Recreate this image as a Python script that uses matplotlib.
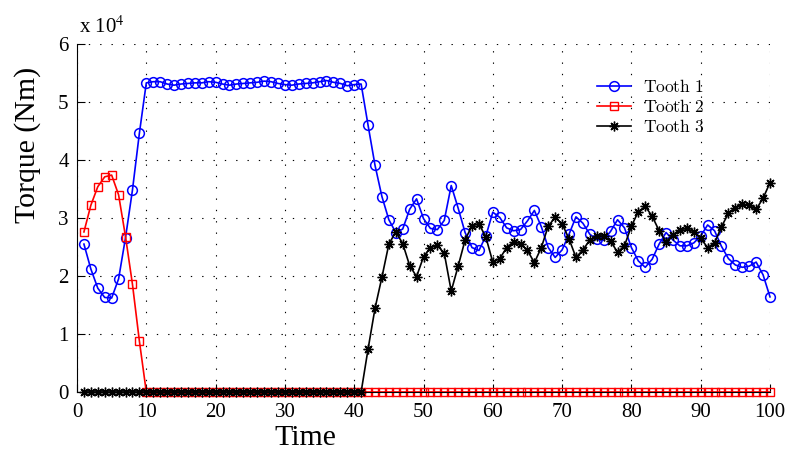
import matplotlib
matplotlib.use("Agg")
import matplotlib.pyplot as plt
from matplotlib.font_manager import FontProperties
import numpy as np

# torque per tooth, in units of 1e4 Nm, sampled at time steps 1..100
time = np.arange(1, 101)

tooth1 = [2.55, 2.12, 1.79, 1.63, 1.62, 1.95, 2.66, 3.48, 4.46,
          5.33, 5.35, 5.35, 5.31, 5.29, 5.31, 5.32, 5.33,
          5.33, 5.35, 5.34, 5.31, 5.29, 5.31, 5.32, 5.33, 5.34, 5.36, 5.35, 5.32,
          5.30, 5.29, 5.31, 5.32, 5.33, 5.35, 5.37, 5.34, 5.32, 5.28, 5.30, 5.31,
          4.60, 3.91, 3.37, 2.97, 2.75, 2.81, 3.15, 3.33, 2.99, 2.82,
          2.80, 2.96, 3.56, 3.17, 2.75, 2.49, 2.44, 2.69, 3.10, 3.01,
          2.83, 2.78, 2.80, 2.95, 3.13, 2.85, 2.49, 2.32, 2.45, 2.72,
          3.02, 2.91, 2.72, 2.63, 2.62, 2.77, 2.97, 2.83, 2.49, 2.26,
          2.15, 2.29, 2.55, 2.75, 2.62, 2.52, 2.52, 2.57, 2.69, 2.88,
          2.78, 2.51, 2.30, 2.19, 2.15, 2.17, 2.24, 2.02, 1.64]

tooth2 = [2.76, 3.22, 3.54, 3.71, 3.74, 3.40, 2.68, 1.86, 0.88] + [0.0] * 91

tooth3 = [0.0] * 41 + [
    0.74, 1.44, 1.98, 2.55, 2.76, 2.56, 2.18, 1.99, 2.33, 2.49,
    2.53, 2.39, 1.74, 2.17, 2.62, 2.87, 2.90, 2.67, 2.24, 2.30,
    2.49, 2.59, 2.56, 2.44, 2.23, 2.49, 2.86, 3.01, 2.90, 2.64,
    2.32, 2.45, 2.62, 2.69, 2.69, 2.60, 2.41, 2.52, 2.86, 3.11,
    3.20, 3.03, 2.78, 2.59, 2.71, 2.80, 2.82, 2.76, 2.65, 2.49,
    2.57, 2.85, 3.08, 3.18, 3.24, 3.22, 3.15, 3.34, 3.61]

labels = [r"$\mathrm{Tooth\ 1}$", r"$\mathrm{Tooth\ 2}$", r"$\mathrm{Tooth\ 3}$"]

plt.rcParams["font.family"] = "Liberation Serif"
plt.rcParams["mathtext.fontset"] = "stix"

W, H = 788, 450
fig = plt.figure(figsize=(W / 100, H / 100), dpi=100)
ax = fig.add_axes([77 / W, 1 - 392 / H, (770 - 77) / W, (392 - 44) / H])

asterisk = (8, 2, 0)
ax.plot(time, tooth1, color="b", lw=1.2, marker="o", ms=7, mfc="none",
        mew=1.1, label=labels[0], clip_on=False)
ax.plot(time, tooth2, color="r", lw=1.2, marker="s", ms=6, mfc="none",
        mew=1.0, label=labels[1], clip_on=False)
ax.plot(time, tooth3, color="k", lw=1.2, marker=asterisk, ms=7,
        mew=1.0, label=labels[2], clip_on=False)

ax.set_xlim(0, 100)
ax.set_ylim(0, 6)
ax.set_xticks(range(0, 101, 10))
ax.set_yticks(range(0, 7))

for s in ["top", "right"]:
    ax.spines[s].set_visible(False)
ax.spines["left"].set_linewidth(0.8)
ax.spines["bottom"].set_linewidth(0.8)

ax.tick_params(direction="in", length=6, width=0.8, labelsize=15, pad=6)
ax.tick_params(axis="x", pad=8)

ax.grid(True, color="k", linewidth=0.8, linestyle=(0, (1.2, 9)))
ax.set_axisbelow(True)

# axis labels and exponent
fig.text(305 / W, 1 - 445 / H, "Time", fontsize=21.5, ha="center",
         va="baseline")
fig.text(28 / W, 1 - 145 / H, "Torque (Nm)", fontsize=21.5, ha="center",
         va="center", rotation=90)
fig.text(79 / W, 1 - 33 / H, r"x 10$^{4}$", fontsize=15, ha="left",
         va="baseline")

leg_font = FontProperties(size=12.5, math_fontfamily="cm")
ax.legend(loc="upper left", bbox_to_anchor=(597 / W, 1 - 79 / H),
          bbox_transform=fig.transFigure, frameon=False, prop=leg_font,
          borderpad=0, borderaxespad=0, handlelength=1.95,
          handletextpad=0.7, labelspacing=0.18)

fig.savefig("out.png", dpi=100)
